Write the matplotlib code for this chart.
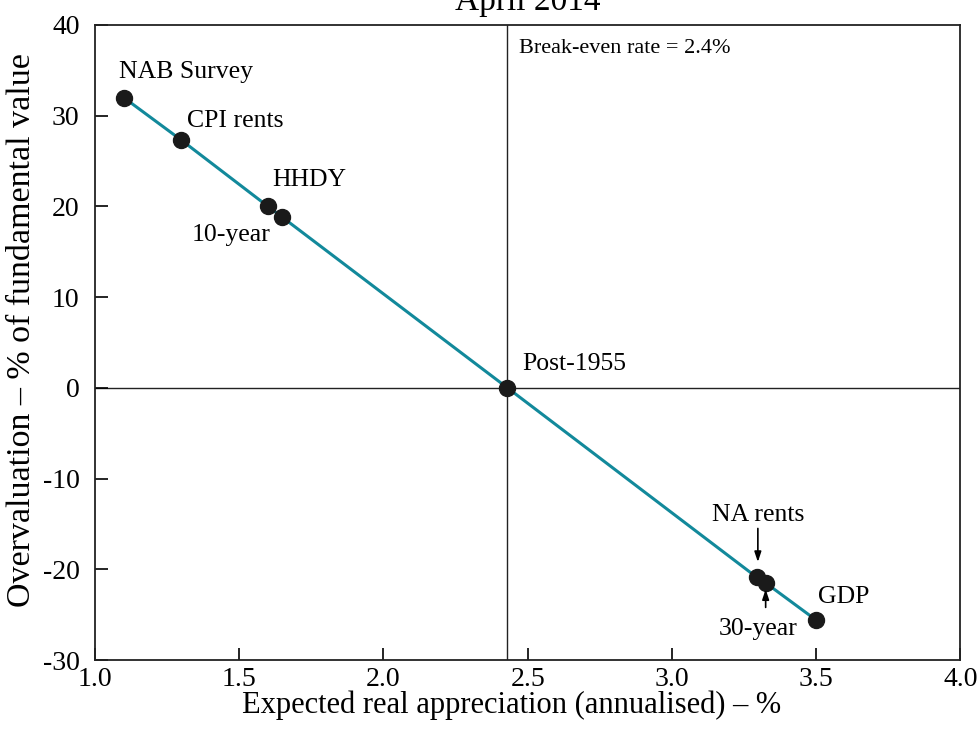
import matplotlib
matplotlib.use("Agg")
import matplotlib.pyplot as plt

plt.rcParams['font.family'] = ['Liberation Serif', 'DejaVu Serif']

# Données
labels = ["NAB Survey", "CPI rents", "HHDY", "10-year", "Post-1955", "NA rents", "30-year", "GDP"]
x_vals = [1.10, 1.30, 1.60, 1.65, 2.43, 3.295, 3.325, 3.50]
y_vals = [32.0, 27.3, 20.0, 18.8, 0.0, -20.9, -21.5, -25.6]
break_even = 2.43

x_ticks = [1.0, 1.5, 2.0, 2.5, 3.0, 3.5, 4.0]
y_ticks = [-30, -20, -10, 0, 10, 20, 30, 40]

fig = plt.figure(figsize=(9.78, 7.34), dpi=100)
ax = fig.add_axes([0.097, 0.1008, 0.885, 0.8652])

ax.axhline(0, color="#222222", lw=1.0, zorder=1)
ax.axvline(break_even, color="#222222", lw=1.0, zorder=1)

ax.plot(x_vals, y_vals, color="#12899b", lw=2.2, zorder=2)
ax.plot(x_vals, y_vals, "o", color="#1a1a1a", ms=11.5, zorder=3)

fs = 18.5
ax.text(1.085, 34.8, "NAB Survey", fontsize=fs, ha="left", va="center")
ax.text(1.32, 29.4, "CPI rents", fontsize=fs, ha="left", va="center")
ax.text(1.615, 22.9, "HHDY", fontsize=fs, ha="left", va="center")
ax.text(1.335, 16.8, "10-year", fontsize=fs, ha="left", va="center")
ax.text(2.48, 2.6, "Post-1955", fontsize=fs, ha="left", va="center")
ax.text(3.505, -23.0, "GDP", fontsize=fs, ha="left", va="center")
ax.text(2.47, 37.4, "Break-even rate = 2.4%", fontsize=16, ha="left", va="center")

# Flèches
ax.text(3.30, -14.0, "NA rents", fontsize=fs, ha="center", va="center")
ax.annotate("", xy=(3.298, -19.2), xytext=(3.298, -15.5),
            arrowprops=dict(arrowstyle="-|>,head_length=0.6,head_width=0.2",
                            color="black", lw=1.2, shrinkA=0, shrinkB=0))
ax.text(3.30, -26.6, "30-year", fontsize=fs, ha="center", va="center")
ax.annotate("", xy=(3.325, -22.2), xytext=(3.325, -24.2),
            arrowprops=dict(arrowstyle="-|>,head_length=0.6,head_width=0.2",
                            color="black", lw=1.2, shrinkA=0, shrinkB=0))

ax.set_xlim(1.0, 4.0)
ax.set_ylim(-30, 40)
ax.set_xticks(x_ticks)
ax.set_xticklabels([f"{v:.1f}" for v in x_ticks])
ax.set_yticks(y_ticks)
ax.set_yticklabels([str(v) for v in y_ticks])
ax.tick_params(direction="in", length=9, width=1.2, labelsize=20)
ax.tick_params(axis="y", pad=11)
ax.tick_params(axis="x", pad=5)
for s in ax.spines.values():
    s.set_linewidth(1.3)
    s.set_color("#222222")

ax.set_xlabel("Expected real appreciation (annualised) – %", fontsize=22)
ax.set_ylabel("Overvaluation – % of fundamental value", fontsize=24.5)
ax.xaxis.set_label_coords(0.481, -0.048)
ax.yaxis.set_label_coords(-0.067, 0.52)
ax.set_title("April 2014", fontsize=24, pad=11)

fig.savefig("out.png", dpi=100)
